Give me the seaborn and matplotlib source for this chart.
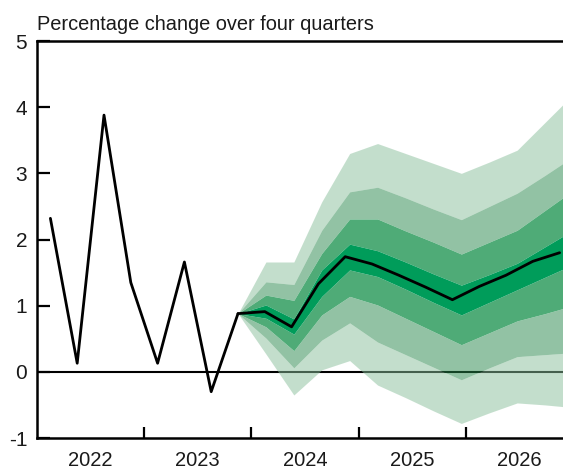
import numpy as np
import pandas as pd
import matplotlib
matplotlib.use("Agg")
import matplotlib.pyplot as plt
import seaborn as sns

# Four-quarter growth: outturns 2022 Q1 - 2023 Q4, then the central projection
years = ["2022", "2023", "2024", "2025", "2026"]
outturn = [2.32, 0.13, 3.88, 1.35, 0.13, 1.66, -0.30, 0.88]
projection = [0.88, 0.91, 0.68, 1.33, 1.74, 1.63, 1.46, 1.28, 1.09, 1.29, 1.46, 1.67, 1.80]

# Fan chart bands (upper / lower edge), starting from the last outturn
outer_upper = [0.88, 1.66, 1.66, 2.57, 3.30, 3.45, 3.30, 3.15, 3.00, 3.17, 3.35, 3.77, 4.19]
mid_upper   = [0.88, 1.36, 1.32, 2.14, 2.72, 2.79, 2.63, 2.46, 2.30, 2.50, 2.70, 2.97, 3.25]
inner_upper = [0.88, 1.16, 1.08, 1.79, 2.31, 2.31, 2.13, 1.96, 1.78, 1.96, 2.14, 2.44, 2.74]
core_upper  = [0.88, 1.01, 0.80, 1.54, 1.93, 1.83, 1.66, 1.48, 1.31, 1.47, 1.64, 1.89, 2.14]
core_lower  = [0.88, 0.81, 0.57, 1.14, 1.54, 1.44, 1.25, 1.05, 0.86, 1.05, 1.24, 1.43, 1.62]
inner_lower = [0.88, 0.68, 0.32, 0.86, 1.14, 1.01, 0.81, 0.61, 0.41, 0.59, 0.77, 0.88, 1.00]
mid_lower   = [0.88, 0.51, 0.06, 0.48, 0.74, 0.45, 0.26, 0.07, -0.12, 0.06, 0.23, 0.26, 0.29]
outer_lower = [0.88, 0.27, -0.35, 0.03, 0.17, -0.20, -0.39, -0.59, -0.78, -0.62, -0.47, -0.50, -0.54]

yticks = [-1, 0, 1, 2, 3, 4, 5]

sns.set_style("ticks")
plt.rcParams["font.family"] = ["Liberation Sans", "DejaVu Sans"]
ink = "#1a1a1a"

fig = plt.figure(figsize=(5.63, 4.70), dpi=100)
ax = fig.add_axes([37 / 563, 32 / 470, 536 / 563, 397 / 470])

n_q = 4 * len(years)
x_lo, x_hi = -0.5, n_q - 0.5
hist = pd.DataFrame({"q": np.arange(len(outturn)), "value": outturn})
proj = pd.DataFrame({"q": np.arange(len(outturn) - 1, len(outturn) - 1 + len(projection)),
                     "value": projection})

# Fan spans from the last outturn to the right edge of the axis
fan_x = np.linspace(len(outturn) - 1, x_hi, len(outer_upper))

c_light, c_mid, c_inner, c_core = "#89bf9b", "#27874a", "#4fab77", "#009c5a"
alpha_outer = 0.5
ax.axhline(0, color="black", lw=1.5, zorder=1)
ax.fill_between(fan_x, mid_upper, outer_upper, color=c_light, alpha=alpha_outer, lw=0, zorder=2)
ax.fill_between(fan_x, outer_lower, mid_lower, color=c_light, alpha=alpha_outer, lw=0, zorder=2)
ax.fill_between(fan_x, inner_upper, mid_upper, color=c_mid, alpha=alpha_outer, lw=0, zorder=2)
ax.fill_between(fan_x, mid_lower, inner_lower, color=c_mid, alpha=alpha_outer, lw=0, zorder=2)
ax.fill_between(fan_x, core_upper, inner_upper, color=c_inner, lw=0, zorder=3)
ax.fill_between(fan_x, inner_lower, core_lower, color=c_inner, lw=0, zorder=3)
ax.fill_between(fan_x, core_lower, core_upper, color=c_core, lw=0, zorder=3)

sns.lineplot(data=hist, x="q", y="value", color="black", lw=2.0, ax=ax, zorder=5)
sns.lineplot(data=proj, x="q", y="value", color="black", lw=2.0, ax=ax, zorder=5)

ax.set_xlim(x_lo, x_hi)
ax.set_ylim(-1, 5)
ax.set_xlabel("")
ax.set_ylabel("")

for side in ["left", "bottom", "top", "right"]:
    ax.spines[side].set_visible(True)
    ax.spines[side].set_linewidth(1.8)
    ax.spines[side].set_color("black")

ax.set_yticks(yticks)
ax.set_yticklabels([str(v) for v in yticks])
ax.tick_params(axis="y", direction="in", length=9, width=1.6, pad=7,
               labelsize=15, labelcolor=ink, color="black")

# Year boundaries as ticks, year names centred between them
ax.set_xticks([4 * i - 0.5 for i in range(1, len(years))])
ax.set_xticklabels([])
ax.set_xticks([4 * i + 1.5 for i in range(len(years))], minor=True)
ax.set_xticklabels(years, minor=True)
ax.tick_params(axis="x", which="major", direction="in", length=8, width=1.6, color="black")
ax.tick_params(axis="x", which="minor", length=0, pad=9, labelsize=14.5, labelcolor=ink)

fig.text(37 / 563, (470 - 30) / 470, "Percentage change over four quarters",
         ha="left", va="baseline", fontsize=14.4, color=ink)

fig.savefig("out.png", dpi=100)
